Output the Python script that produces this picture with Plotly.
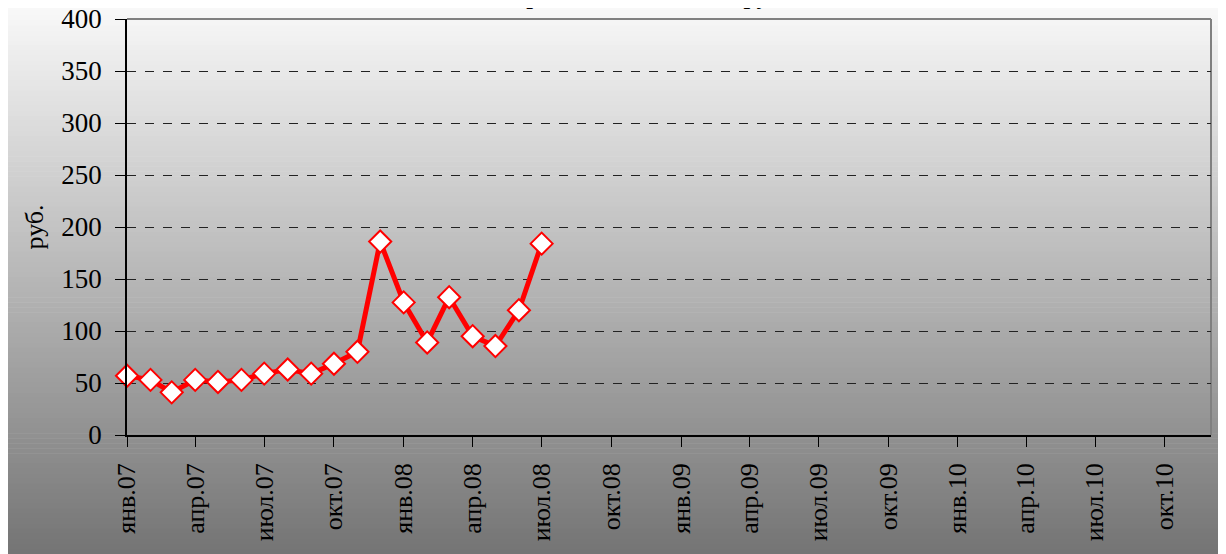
import plotly.graph_objects as go

# Data
months = ["2007-01-01", "2007-02-01", "2007-03-01", "2007-04-01", "2007-05-01",
          "2007-06-01", "2007-07-01", "2007-08-01", "2007-09-01", "2007-10-01",
          "2007-11-01", "2007-12-01", "2008-01-01", "2008-02-01", "2008-03-01",
          "2008-04-01", "2008-05-01", "2008-06-01", "2008-07-01"]
prices = [57, 53, 41, 53, 51, 53, 59, 63, 59, 68.5, 80, 186, 127.5, 89, 132.5,
          95, 85.5, 120, 184]

tick_dates = ["2007-01-01", "2007-04-01", "2007-07-01", "2007-10-01",
              "2008-01-01", "2008-04-01", "2008-07-01", "2008-10-01",
              "2009-01-01", "2009-04-01", "2009-07-01", "2009-10-01",
              "2010-01-01", "2010-04-01", "2010-07-01", "2010-10-01"]
tick_labels = ["янв.07", "апр.07", "июл.07", "окт.07",
               "янв.08", "апр.08", "июл.08", "окт.08",
               "янв.09", "апр.09", "июл.09", "окт.09",
               "янв.10", "апр.10", "июл.10", "окт.10"]
y_ticks = [0, 50, 100, 150, 200, 250, 300, 350, 400]

FONT = "Times New Roman"

fig = go.Figure()
fig.add_trace(go.Scatter(
    x=months, y=prices, mode="lines+markers",
    line=dict(color="#ff0000", width=5),
    marker=dict(symbol="diamond", size=17, color="white",
                line=dict(color="#ff0000", width=2)),
    cliponaxis=False, showlegend=False,
))

# vertical gradient background for the whole chart area (page has 8px body margin)
W, H = 1226, 554
OFF = 8
ml, mr, mt, mb = 119, 23, 11, 127
pw, ph = W - ml - mr, H - mt - mb
top_c, bot_c = 250, 116
n = 110
shapes = []
for i in range(n):
    y0px = H * i / n - OFF
    y1px = H * (i + 1) / n + 0.6 - OFF
    c = round(top_c + (bot_c - top_c) * (i + 0.5) / n)
    shapes.append(dict(
        type="rect", xref="paper", yref="paper", layer="below",
        x0=-ml / pw - 0.01, x1=1 + mr / pw + 0.01,
        y0=1 - (y1px - mt) / ph, y1=1 - (y0px - mt) / ph,
        line=dict(width=0), fillcolor=f"rgb({c},{c},{c})",
    ))
# gray top and right border of plot area
shapes.append(dict(type="line", xref="paper", yref="paper", x0=0, x1=1, y0=1, y1=1,
                   line=dict(color="#808080", width=2), layer="below"))
shapes.append(dict(type="line", xref="paper", yref="paper", x0=1, x1=1, y0=0, y1=1,
                   line=dict(color="#808080", width=2), layer="below"))

fig.update_layout(
    width=W, height=H,
    margin=dict(l=ml, r=mr, t=mt, b=mb, autoexpand=False),
    paper_bgcolor="rgba(0,0,0,0)",
    plot_bgcolor="rgba(0,0,0,0)",
    shapes=shapes,
    font=dict(family=FONT, color="black", size=26),
    annotations=[dict(
        text="<b>Средняя цена акции, руб.</b>", xref="paper", yref="paper",
        x=0.48, y=1 + 8 / ph, xanchor="center", yanchor="bottom",
        showarrow=False, font=dict(family=FONT, size=24, color="black"),
    )],
)
fig.update_xaxes(
    type="date", range=["2007-01-01", "2010-12-01"], automargin=False,
    tickvals=tick_dates, ticktext=tick_labels, tickangle=-90,
    ticks="outside", ticklen=10, tickcolor="black", tickwidth=1,
    ticklabelstandoff=6, ticklabeloverflow="allow",
    showline=True, linecolor="black", linewidth=1.5,
    showgrid=False, zeroline=False,
    tickfont=dict(family=FONT, size=26, color="black"),
)
fig.update_yaxes(
    range=[0, 400], tickvals=y_ticks, automargin=False,
    ticks="outside", ticklen=10, tickcolor="black", tickwidth=1,
    ticklabelstandoff=8, ticklabeloverflow="allow",
    showline=True, linecolor="black", linewidth=1.5,
    showgrid=True, gridcolor="#222222", griddash="dash", gridwidth=1,
    zeroline=False,
    tickfont=dict(family=FONT, size=27, color="black"),
    title=dict(text="руб.", font=dict(family=FONT, size=26, color="black"), standoff=10),
)

fig.write_html("out.html")
